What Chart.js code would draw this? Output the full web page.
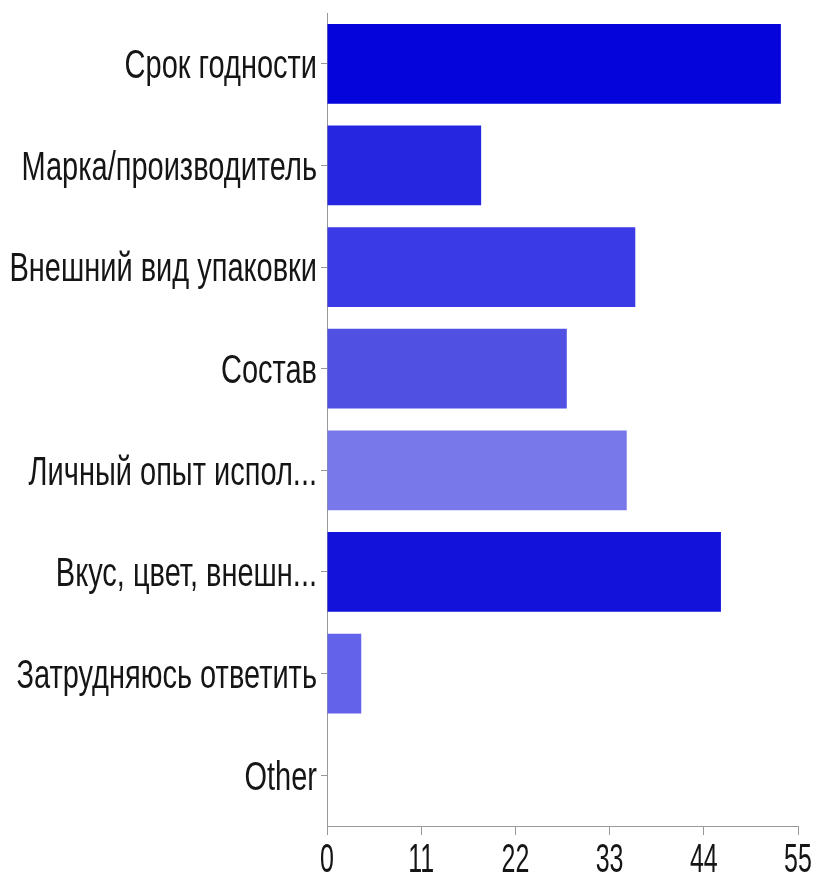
<!DOCTYPE html>
<html>
<head>
<meta charset="utf-8">
<script src="https://cdn.jsdelivr.net/npm/chart.js@4"></script>
<style>
  html, body { margin:0; padding:0; background:#fff; }
  #wrap { width:817px; height:879px; }
</style>
</head>
<body>
<div id="wrap"><canvas id="chartCanvas" width="817" height="879"></canvas></div>
<script>
document.addEventListener("DOMContentLoaded", () => {

const categories = [
  "Срок годности",
  "Марка/производитель",
  "Внешний вид упаковки",
  "Состав",
  "Личный опыт испол...",
  "Вкус, цвет, внешн...",
  "Затрудняюсь ответить",
  "Other"
];
const counts = [53, 18, 36, 28, 35, 46, 4, 0];
const barColors = ["#0404db", "#2626e0", "#3a3ae6", "#5050e2", "#7878ea", "#1212da", "#6262ea", "#5050e2"];
const xTicks = [0, 11, 22, 33, 44, 55];

const font = "'Liberation Sans', Arial, sans-serif";

// the original labels are a tall, narrow face: draw them stretched vertically
const tallLabels = {
  id: "tallLabels",
  afterDraw(chart) {
    const ctx = chart.ctx;
    const xs = chart.scales.x, ys = chart.scales.y;
    ctx.save();
    ctx.fillStyle = "#151515";
    ctx.textBaseline = "middle";

    ctx.font = "29px " + font;
    ctx.textAlign = "right";
    categories.forEach((c, i) => {
      ctx.save();
      ctx.translate(ys.right - 10, ys.getPixelForTick(i) + 3);
      ctx.scale(1, 1.42);
      ctx.fillText(c, 0, 0);
      ctx.restore();
    });

    ctx.font = "25px " + font;
    ctx.textAlign = "center";
    xs.ticks.forEach((t, i) => {
      ctx.save();
      ctx.translate(xs.getPixelForTick(i), 861);
      ctx.scale(1, 1.6);
      ctx.fillText(String(t.value), 0, 0);
      ctx.restore();
    });
    ctx.restore();
  }
};

new Chart(document.getElementById("chartCanvas"), {
  type: "bar",
  data: {
    labels: categories,
    datasets: [{
      data: counts,
      backgroundColor: barColors,
      categoryPercentage: 0.8,
      barPercentage: 0.98
    }]
  },
  options: {
    indexAxis: "y",
    responsive: false,
    animation: false,
    layout: { padding: { top: 13, right: 19, left: 0, bottom: 0 } },
    plugins: { legend: { display: false }, tooltip: { enabled: false } },
    scales: {
      x: {
        min: 0,
        max: 55,
        afterBuildTicks: s => { s.ticks = xTicks.map(v => ({ value: v })); },
        afterFit: s => { s.height = 879 - 826; },
        grid: { drawOnChartArea: false, drawTicks: true, tickLength: 9, color: "#999" },
        border: { color: "#999", width: 1 },
        ticks: { display: false }
      },
      y: {
        afterFit: s => { s.width = 327; },
        grid: { offset: false, drawOnChartArea: false, drawTicks: true, tickLength: 6, color: "#999" },
        border: { color: "#999", width: 1 },
        ticks: { display: false }
      }
    }
  },
  plugins: [tallLabels]
});

});
</script>
</body>
</html>
